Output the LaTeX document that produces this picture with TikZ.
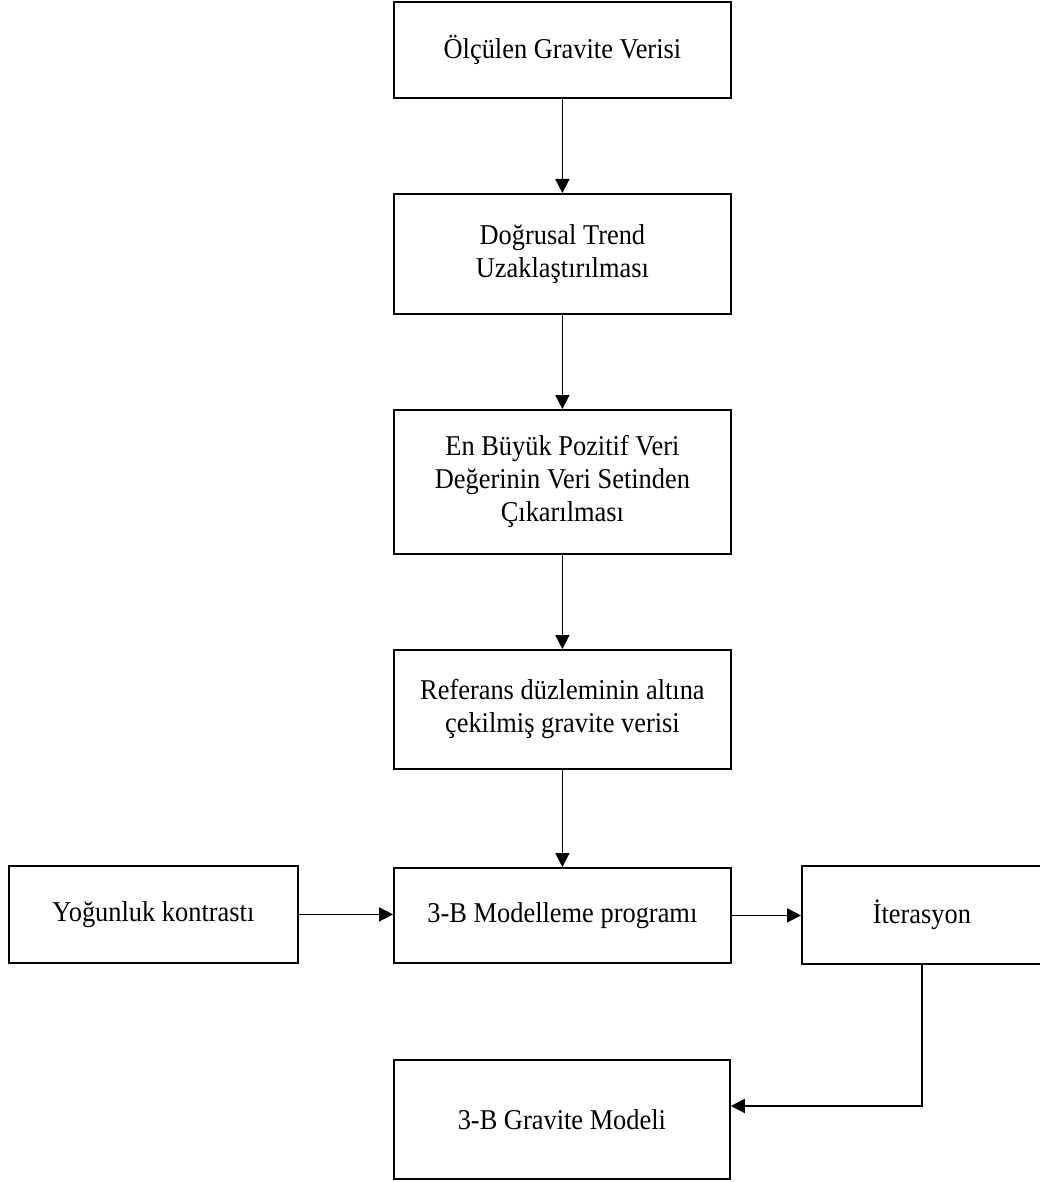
\documentclass[tikz,border=0pt]{standalone}
\usepackage{fontspec}
\setmainfont{Liberation Serif}
\newfontfamily\boxfont{Liberation Serif}[FakeStretch=0.92]
\usetikzlibrary{arrows.meta}
\begin{document}
\begin{tikzpicture}[x=1pt,y=-1pt,
  box/.style={draw, line width=1.8pt, inner sep=0pt, align=center,
    font=\boxfont\fontsize{28.7}{33}\selectfont, anchor=north west},
  arr/.style={line width=1.8pt, -{Triangle[length=14pt,width=14pt]}}]
\useasboundingbox (0,0) rectangle (1040,1182);
\node[box, minimum width=337pt, minimum height=96pt] (b1) at (393,1) {Ölçülen Gravite Verisi};
\node[box, minimum width=337pt, minimum height=120pt] (b2) at (393,193) {Doğrusal Trend\\Uzaklaştırılması};
\node[box, minimum width=337pt, minimum height=144pt] (b3) at (393,409) {En Büyük Pozitif Veri\\Değerinin Veri Setinden\\Çıkarılması};
\node[box, minimum width=337pt, minimum height=119pt] (b4) at (393,649) {Referans düzleminin altına\\çekilmiş gravite verisi};
\node[box, minimum width=337pt, minimum height=95pt] (b5) at (393,867) {3-B Modelleme programı};
\node[box, minimum width=289pt, minimum height=97pt] (lb) at (8,865) {Yoğunluk kontrastı};
\node[box, minimum width=240pt, minimum height=98pt] (it) at (801,865) {İterasyon};
\node[box, minimum width=336pt, minimum height=119pt] (gm) at (393,1059) {3-B Gravite Modeli};
\coordinate (turn) at (it.south |- 0,1106);
\draw[arr] (b1.south) -- (b2.north);
\draw[arr] (b2.south) -- (b3.north);
\draw[arr] (b3.south) -- (b4.north);
\draw[arr] (b4.south) -- (b5.north);
\draw[arr] (lb.east) -- (lb.east -| b5.west);
\draw[arr] (b5.east) -- (b5.east -| it.west);
\draw[arr] (it.south) -- (turn) -- (turn -| gm.east);
\end{tikzpicture}
\end{document}
